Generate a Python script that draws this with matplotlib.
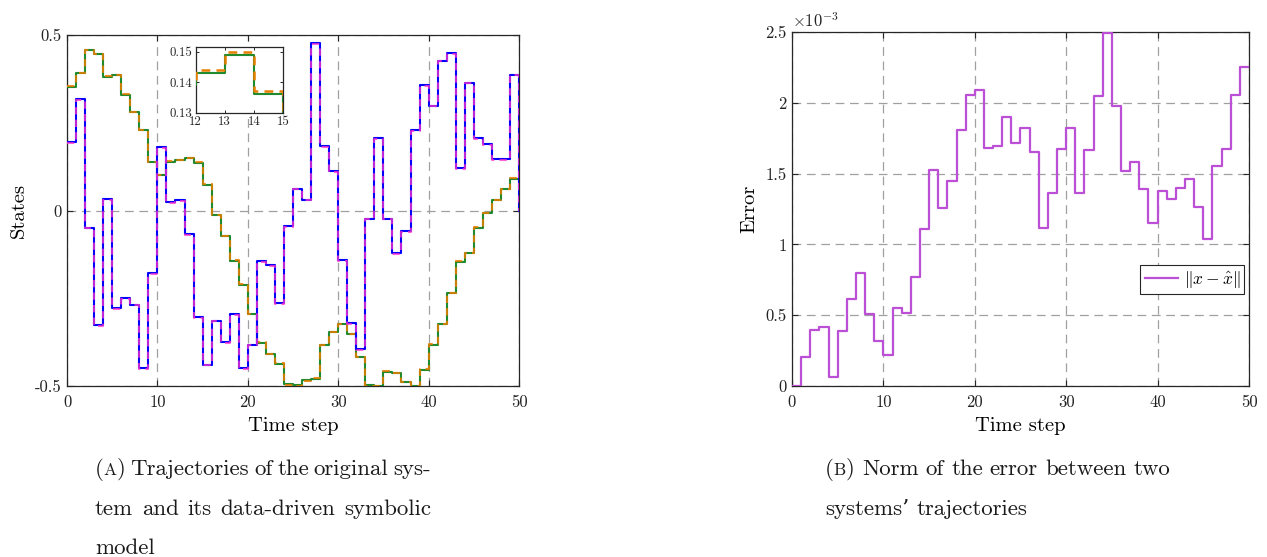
import matplotlib
matplotlib.use("Agg")
import matplotlib.pyplot as plt
import numpy as np
from matplotlib.ticker import FuncFormatter

# ---------------- data ----------------
time = list(range(51))

# state 1 of the original system (blue) and of the symbolic model (magenta dashed)
x1_orig = [0.195, 0.317, -0.049, -0.327, 0.033, -0.279, -0.249, -0.268, -0.450, -0.179,
           0.180, 0.023, 0.029, -0.068, -0.303, -0.439, -0.314, -0.375, -0.295, -0.450,
           -0.382, -0.144, -0.156, -0.263, -0.045, 0.062, 0.031, 0.476, 0.183, 0.112,
           -0.142, -0.320, -0.396, -0.023, 0.206, -0.023, -0.122, -0.059, 0.228, 0.357,
           0.299, 0.427, 0.448, 0.121, 0.364, 0.207, 0.190, 0.146, 0.146, 0.387, 0.0]
x1_model = [0.193, 0.315, -0.051, -0.329, 0.031, -0.281, -0.251, -0.270, -0.452, -0.181,
            0.178, 0.021, 0.027, -0.070, -0.305, -0.441, -0.316, -0.377, -0.297, -0.452,
            -0.384, -0.146, -0.158, -0.265, -0.047, 0.060, 0.029, 0.474, 0.181, 0.110,
            -0.144, -0.322, -0.398, -0.025, 0.204, -0.025, -0.124, -0.061, 0.226, 0.355,
            0.297, 0.425, 0.446, 0.119, 0.362, 0.205, 0.188, 0.144, 0.144, 0.385, 0.0]

# state 2 of the original system (green) and of the symbolic model (orange dashed)
x2_orig = [0.353, 0.392, 0.456, 0.445, 0.381, 0.385, 0.330, 0.280, 0.228, 0.138,
           0.101, 0.139, 0.143, 0.149, 0.136, 0.074, -0.013, -0.074, -0.144, -0.211,
           -0.296, -0.377, -0.410, -0.437, -0.494, -0.498, -0.484, -0.479, -0.384, -0.346,
           -0.324, -0.353, -0.416, -0.496, -0.499, -0.459, -0.464, -0.488, -0.500, -0.453,
           -0.382, -0.323, -0.236, -0.146, -0.122, -0.049, -0.007, 0.029, 0.060, 0.091, 0.091]
x2_model = [0.355, 0.393, 0.457, 0.446, 0.383, 0.386, 0.332, 0.281, 0.229, 0.139,
            0.102, 0.140, 0.144, 0.150, 0.137, 0.075, -0.012, -0.072, -0.142, -0.209,
            -0.294, -0.376, -0.409, -0.435, -0.497, -0.500, -0.486, -0.478, -0.382, -0.345,
            -0.323, -0.351, -0.418, -0.499, -0.500, -0.457, -0.463, -0.490, -0.500, -0.451,
            -0.380, -0.322, -0.234, -0.145, -0.121, -0.047, -0.006, 0.030, 0.061, 0.092, 0.092]

# norm of the error, in units of 1e-3
err_e3 = [0, 0.207, 0.395, 0.418, 0.066, 0.390, 0.611, 0.801, 0.510, 0.317,
          0.221, 0.548, 0.519, 0.768, 1.109, 1.528, 1.257, 1.445, 1.805, 2.056,
          2.087, 1.683, 1.692, 1.897, 1.716, 1.821, 1.652, 1.116, 1.365, 1.671,
          1.821, 1.365, 1.669, 2.045, 2.494, 1.977, 1.516, 1.582, 1.389, 1.152,
          1.375, 1.323, 1.396, 1.464, 1.262, 1.041, 1.551, 1.671, 2.056, 2.254, 2.254]

left_yticks = [-0.5, 0, 0.5]
left_yticklabels = ["-0.5", "0", "0.5"]
xticks = [0, 10, 20, 30, 40, 50]
err_yticks_e3 = [0, 0.5, 1, 1.5, 2, 2.5]
inset_xticks = [12, 13, 14, 15]
inset_yticks = [0.13, 0.14, 0.15]

caption_a = [["(", ("A", "small"), ")", "Trajectories", "of", "the", "original", "sys-"],
             ["tem", "and", "its", "data-driven", "symbolic"],
             ["model"]]
caption_b = [["(", ("B", "small"), ")", "Norm", "of", "the", "error", "between", "two"],
             ["systems\u2019", "trajectories"]]

# ---------------- style ----------------
FONT = ["cmr10", "DejaVu Serif"]
plt.rcParams["font.family"] = FONT
plt.rcParams["mathtext.fontset"] = "cm"
plt.rcParams["axes.unicode_minus"] = False

W, H = 1267, 557
fig = plt.figure(figsize=(W / 100, H / 100), dpi=100)

def ax_rect(l, t, r, b):
    return [l / W, 1 - b / H, (r - l) / W, (b - t) / H]

C_BLUE = "#0000ff"
C_MAG = "#ff33cc"
C_GREEN = "#1f8a2e"
C_ORANGE = "#e67e00"
C_ERR = "#bb4fd6"
GRID_KW = dict(color="#a0a0a0", linestyle=(0, (7, 4.5)), linewidth=0.9)
TICK_FS = 12
LABEL_FS = 14.8

def style_axes(ax):
    for s in ax.spines.values():
        s.set_color("#262626")
        s.set_linewidth(0.9)
    ax.tick_params(direction="in", top=True, right=True, length=4, width=0.8,
                   colors="#262626", labelsize=TICK_FS, labelcolor="#222222")
    ax.tick_params(axis="x", pad=6)
    ax.tick_params(axis="y", pad=4)

# ---------------- left: trajectories ----------------
ax1 = fig.add_axes(ax_rect(67, 35, 519, 386))
ax1.grid(True, **GRID_KW)
ax1.set_axisbelow(True)
ax1.step(time, x2_orig, where="post", color=C_GREEN, lw=1.5, zorder=3)
ax1.step(time, x2_model, where="post", color=C_ORANGE, lw=1.5, ls=(0, (3.5, 2.5)), alpha=0.85, zorder=3)
ax1.step(time, x1_orig, where="post", color=C_BLUE, lw=1.5, zorder=3)
ax1.step(time, x1_model, where="post", color=C_MAG, lw=1.5, ls=(0, (3.5, 2.5)), alpha=0.75, zorder=3)
ax1.set_xlim(0, 50)
ax1.set_ylim(-0.5, 0.5)
ax1.set_xticks(xticks)
ax1.set_xticklabels([str(v) for v in xticks])
ax1.set_yticks(left_yticks)
ax1.set_yticklabels(left_yticklabels)
style_axes(ax1)
ax1.set_xlabel("Time step", fontsize=LABEL_FS, labelpad=5)
ax1.set_ylabel("States", fontsize=LABEL_FS, labelpad=5)

# inset
axin = fig.add_axes(ax_rect(195.7, 46.7, 283, 112.7))
axin.step(time, x2_orig, where="post", color=C_GREEN, lw=1.5, zorder=3)
axin.step(time, x2_model, where="post", color=C_ORANGE, lw=1.8, ls=(0, (3.5, 2.5)), zorder=3)
axin.set_xlim(12, 15)
axin.set_ylim(0.13, 0.1517)
axin.set_xticks(inset_xticks)
axin.set_xticklabels([str(v) for v in inset_xticks])
axin.set_yticks(inset_yticks)
axin.set_yticklabels(["%.2f" % v for v in inset_yticks])
for s in axin.spines.values():
    s.set_color("#262626")
    s.set_linewidth(0.9)
axin.tick_params(direction="in", top=True, right=True, length=2.5, width=0.7,
                 colors="#262626", labelsize=9.3, pad=2.5)
axin.set_facecolor("white")

# ---------------- right: error ----------------
ax2 = fig.add_axes(ax_rect(792, 32, 1249, 386))
ax2.grid(True, **GRID_KW)
ax2.set_axisbelow(True)
ax2.step(time, np.array(err_e3) * 1e-3, where="post", color=C_ERR, lw=1.6, zorder=3,
         label=r"$\|x-\hat{x}\|$")
ax2.set_xlim(0, 50)
ax2.set_ylim(0, 2.5e-3)
ax2.set_xticks(xticks)
ax2.set_xticklabels([str(v) for v in xticks])
ax2.set_yticks([v * 1e-3 for v in err_yticks_e3])
ax2.yaxis.set_major_formatter(FuncFormatter(lambda v, p: "%g" % round(v * 1e3, 6)))
style_axes(ax2)
ax2.set_xlabel("Time step", fontsize=LABEL_FS, labelpad=5)
ax2.set_ylabel("Error", fontsize=LABEL_FS, labelpad=5)
ax2.text(0.0, 1.005, r"$\times10^{-3}$", transform=ax2.transAxes, fontsize=12,
         ha="left", va="bottom", color="#222222")
leg = ax2.legend(loc="upper right", bbox_to_anchor=(0.99, 0.343), fontsize=12.5,
                 fancybox=False, framealpha=1, edgecolor="#262626", borderpad=0.25,
                 handlelength=1.9, handletextpad=0.35, borderaxespad=0)
leg.get_frame().set_linewidth(0.8)

# ---------------- captions ----------------
renderer = fig.canvas.get_renderer()
CAP_FS = 16.5
SMALL_FS = 12.5

def word_pieces(word):
    if isinstance(word, tuple):
        return [(word[0], SMALL_FS)]
    return [(word, CAP_FS)]

def measure(s, fs):
    t = fig.text(0, 0, s, fontsize=fs)
    w = t.get_window_extent(renderer).width
    t.remove()
    return w

def draw_line(words, x0, y, x1=None):
    tokens = []
    i = 0
    while i < len(words):
        if words[i] == "(" and i + 2 < len(words):
            tokens.append([("(", CAP_FS)] + word_pieces(words[i + 1]) + [(")", CAP_FS)])
            i += 3
        else:
            tokens.append(word_pieces(words[i]))
            i += 1
    widths = [sum(measure(s, fs) for s, fs in tok) for tok in tokens]
    space = measure("a a", CAP_FS) - measure("aa", CAP_FS)
    if x1 is not None and len(tokens) > 1:
        gap = (x1 - x0 - sum(widths)) / (len(tokens) - 1)
    else:
        gap = space
    x = x0
    for tok, w in zip(tokens, widths):
        xx = x
        for s, fs in tok:
            fig.text(xx / W, 1 - y / H, s, fontsize=fs, ha="left", va="baseline",
                     color="#1a1a1a")
            xx += measure(s, fs)
        x += w + gap

draw_line(caption_a[0], 95, 475, 431)
draw_line(caption_a[1], 95, 515, 431)
draw_line(caption_a[2], 95, 554)
draw_line(caption_b[0], 825, 475, 1170)
draw_line(caption_b[1], 825, 515)

fig.savefig("out.png", dpi=100)
